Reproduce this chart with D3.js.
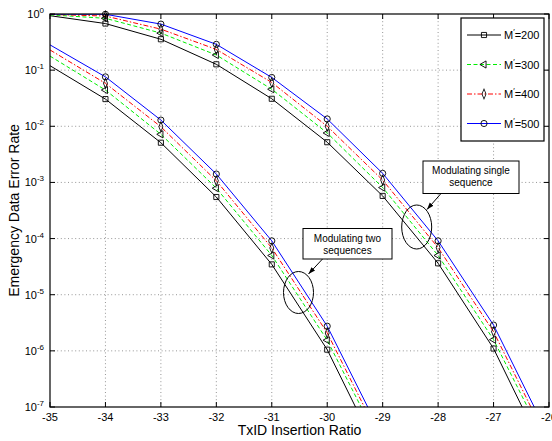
<!DOCTYPE html>
<html><head><meta charset="utf-8">
<script src="https://cdn.jsdelivr.net/npm/d3@7"></script>
<style>body{margin:0;background:#fff}svg{display:block}text{font-family:"Liberation Sans",Arial,sans-serif}</style>
</head><body>
<svg id="c" width="552" height="441"></svg>
<script>
// ---- data ----
const xTicks = [-35,-34,-33,-32,-31,-30,-29,-28,-27,-26];
const yTickExps = [0,-1,-2,-3,-4,-5,-6,-7];
const seriesNames = ["200","300","400","500"];
// Modulating two sequences (x = -35 .. -29)
const xTwo = [-35,-34,-33,-32,-31,-30,-29];
const two200 = [0.120, 0.0305, 5.1e-3, 5.5e-4, 3.47e-5, 1.05e-6, 1.05e-8];
const two300 = [0.178, 0.0442, 7.2e-3, 7.9e-4, 5.0e-5, 1.55e-6, 1.74e-8];
const two400 = [0.229, 0.0582, 9.8e-3, 1.07e-3, 6.8e-5, 2.09e-6, 2.24e-8];
const two500 = [0.282, 0.0759, 0.0129, 1.41e-3, 9.1e-5, 2.75e-6, 2.95e-8];
// Modulating single sequence (x = -35 .. -26)
const xOne = [-35,-34,-33,-32,-31,-30,-29,-28,-27,-26];
const one200 = [0.933, 0.676, 0.355, 0.127, 0.0309, 5.2e-3, 5.75e-4, 3.63e-5, 1.10e-6, 1.05e-8];
const one300 = [0.966, 0.838, 0.457, 0.186, 0.0457, 7.6e-3, 8.1e-4, 5.0e-5, 1.58e-6, 1.74e-8];
const one400 = [0.982, 0.920, 0.537, 0.234, 0.0603, 0.0100, 1.10e-3, 6.9e-5, 2.19e-6, 2.24e-8];
const one500 = [0.993, 0.989, 0.661, 0.288, 0.0741, 0.0135, 1.45e-3, 9.1e-5, 2.88e-6, 2.95e-8];

const styles = [
  {color:"#000000", dash:null, marker:"square"},
  {color:"#00ee00", dash:"4,2.5", marker:"triangle"},
  {color:"#ff0000", dash:"5,2,1.5,2", marker:"diamond"},
  {color:"#0000ff", dash:null, marker:"circle"}
];

const W=552,H=441, L=50, R=549, T=14, B=407;
const svg=d3.select("#c");
const x=d3.scaleLinear().domain([-35,-26]).range([L,R]);
const y=d3.scaleLog().domain([1e-7,1]).range([B,T]);

// grid
const g=svg.append("g");
g.selectAll(".gx").data(xTicks.slice(1,-1)).join("line")
  .attr("x1",d=>x(d)).attr("x2",d=>x(d)).attr("y1",T).attr("y2",B)
  .attr("stroke","#8a8a8a").attr("stroke-width",0.9).attr("stroke-dasharray","1,2.6");
g.selectAll(".gy").data(yTickExps.slice(1,-1)).join("line")
  .attr("x1",L).attr("x2",R).attr("y1",d=>y(Math.pow(10,d))).attr("y2",d=>y(Math.pow(10,d)))
  .attr("stroke","#8a8a8a").attr("stroke-width",0.9).attr("stroke-dasharray","1,2.6");

// clip
svg.append("clipPath").attr("id","clip").append("rect").attr("x",L).attr("y",T).attr("width",R-L).attr("height",B-T);

const groups=[
  {xs:xTwo, sets:[two200,two300,two400,two500]},
  {xs:xOne, sets:[one200,one300,one400,one500]}
];
const line=d3.line().x(d=>x(d[0])).y(d=>y(d[1]));
const sym={square:d3.symbolSquare, triangle:d3.symbolTriangle, diamond:d3.symbolDiamond, circle:d3.symbolCircle};
const symSize={square:26, triangle:22, diamond:22, circle:30};
function drawMarker(sel,kind,cx,cy){
  let p=sel.append("path").attr("d",d3.symbol().type(sym[kind]).size(symSize[kind])())
    .attr("fill","none").attr("stroke","#000").attr("stroke-width",0.9);
  if(kind==="triangle") p.attr("transform",`translate(${cx},${cy}) rotate(-90)`);
  else if(kind==="diamond") p.attr("transform",`translate(${cx},${cy}) scale(0.8,1.15)`);
  else p.attr("transform",`translate(${cx},${cy})`);
}
const lines=svg.append("g").attr("clip-path","url(#clip)");
const marks=svg.append("g");
groups.forEach(gr=>{
  gr.sets.forEach((vals,i)=>{
    const pts=gr.xs.map((xv,j)=>[xv,vals[j]]);
    const st=styles[i];
    const p=lines.append("path").datum(pts).attr("d",line).attr("fill","none")
      .attr("stroke",st.color).attr("stroke-width",1);
    if(st.dash) p.attr("stroke-dasharray",st.dash);
  });
});
groups.forEach(gr=>{
  gr.sets.forEach((vals,i)=>{
    gr.xs.forEach((xv,j)=>{
      if(xv>-35 && vals[j]>=1e-7) drawMarker(marks,styles[i].marker,x(xv),y(vals[j]));
    });
  });
});

// frame
svg.append("rect").attr("x",L).attr("y",T).attr("width",R-L).attr("height",B-T)
  .attr("fill","none").attr("stroke","#000").attr("stroke-width",1.2);
// ticks (inward, all sides)
const tk=svg.append("g").attr("stroke","#000").attr("stroke-width",1);
xTicks.forEach(d=>{
  tk.append("line").attr("x1",x(d)).attr("x2",x(d)).attr("y1",B).attr("y2",B-5);
  tk.append("line").attr("x1",x(d)).attr("x2",x(d)).attr("y1",T).attr("y2",T+5);
});
yTickExps.forEach(e=>{
  const yy=y(Math.pow(10,e));
  tk.append("line").attr("x1",L).attr("x2",L+5).attr("y1",yy).attr("y2",yy);
  tk.append("line").attr("x1",R).attr("x2",R-5).attr("y1",yy).attr("y2",yy);
});
// tick labels
svg.selectAll(".xl").data(xTicks).join("text")
  .attr("x",d=>x(d)).attr("y",B+14).attr("text-anchor","middle")
  .attr("font-size",11).text(d=>d);
yTickExps.forEach(e=>{
  const yy=y(Math.pow(10,e));
  const t=svg.append("text").attr("x",44).attr("y",yy+4).attr("text-anchor","end").attr("font-size",11);
  t.append("tspan").text("10");
  t.append("tspan").attr("dy",-5).attr("font-size",8).text(e===0?"0":String(e).replace("-","-"));
});
// axis labels
svg.append("text").attr("x",(L+R)/2).attr("y",435).attr("text-anchor","middle").attr("font-size",14).text("TxID Insertion Ratio");
svg.append("text").attr("transform",`translate(19,${(T+B)/2}) rotate(-90)`).attr("text-anchor","middle").attr("font-size",14).text("Emergency Data Error Rate");

// legend
const lg=svg.append("g");
lg.append("rect").attr("x",461).attr("y",18).attr("width",83).attr("height",123).attr("fill","#fff").attr("stroke","#000").attr("stroke-width",1.2);
const ly=[35,64.5,94,123.5];
seriesNames.forEach((n,i)=>{
  const st=styles[i];
  const l=lg.append("line").attr("x1",467).attr("x2",501).attr("y1",ly[i]).attr("y2",ly[i]).attr("stroke",st.color).attr("stroke-width",1);
  if(st.dash) l.attr("stroke-dasharray",st.dash);
  drawMarker(lg,st.marker,484,ly[i]);
  const t=lg.append("text").attr("x",504).attr("y",ly[i]+4).attr("font-size",11);
  t.append("tspan").text("M");
  t.append("tspan").attr("dy",-5).attr("font-size",8).text("′");
  t.append("tspan").attr("dy",5).text("=200".replace("200",n));
});

// annotations
const defs=svg.append("defs");
defs.append("marker").attr("id","ah").attr("viewBox","0 0 10 10").attr("refX",10).attr("refY",5)
  .attr("markerWidth",7).attr("markerHeight",7).attr("orient","auto")
  .append("path").attr("d","M0,1.5 L10,5 L0,8.5 Z").attr("fill","#000");
function annot(bx,by,bw,bh,lines_,ax1,ay1,ax2,ay2,ecx,ecy,erx,ery){
  svg.append("ellipse").attr("cx",ecx).attr("cy",ecy).attr("rx",erx).attr("ry",ery).attr("fill","none").attr("stroke","#000").attr("stroke-width",1);
  svg.append("line").attr("x1",ax1).attr("y1",ay1).attr("x2",ax2).attr("y2",ay2).attr("stroke","#000").attr("stroke-width",1).attr("marker-end","url(#ah)");
  svg.append("rect").attr("x",bx).attr("y",by).attr("width",bw).attr("height",bh).attr("fill","#fff").attr("stroke","#000").attr("stroke-width",1);
  lines_.forEach((s,k)=>svg.append("text").attr("x",bx+bw/2).attr("y",by+13+k*12).attr("text-anchor","middle").attr("font-size",10).text(s));
}
annot(303,228.5,89,30.5,["Modulating two","sequences"],322.5,259,308.5,274,298.5,292.5,15,21);
annot(423,161,96,32.5,["Modulating single","sequence"],441,193.5,427,209.5,416.7,227,15,22);
</script>
</body></html>
